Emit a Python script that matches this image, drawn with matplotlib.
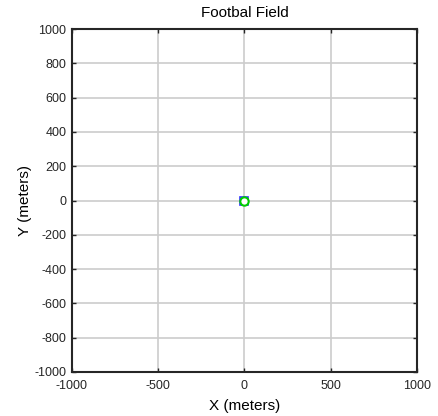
import matplotlib
matplotlib.use("Agg")
import matplotlib.pyplot as plt

plt.rcParams['font.family'] = ['Liberation Sans', 'DejaVu Sans']
plt.rcParams['axes.unicode_minus'] = False

# player / ball positions on the field
ball_x = [0]
ball_y = [0]
player_x = [0]
player_y = [0]

x_ticks = [-1000, -500, 0, 500, 1000]
y_ticks = [-1000, -800, -600, -400, -200, 0, 200, 400, 600, 800, 1000]

fig = plt.figure(figsize=(4.39, 4.16), dpi=100)
ax = fig.add_axes([72/439, 44/416, 345/439, 343/416])

ax.plot(player_x, player_y, 's', color='#3333ff', markersize=6, markeredgewidth=1.2,
        markerfacecolor='none')
ax.plot(ball_x, ball_y, 'o', color='#00cc00', markersize=6, markeredgewidth=1.5,
        markerfacecolor='white')

ax.set_xlim(-1000, 1000)
ax.set_ylim(-1000, 1000)
ax.set_xticks(x_ticks)
ax.set_yticks(y_ticks)
ax.grid(True, color='#cccccc', linewidth=1.2)
ax.set_axisbelow(True)
ax.tick_params(direction='in', top=True, right=True, labelsize=9, length=3,
               width=1, colors='#262626')
ax.tick_params(axis='x', pad=6)
ax.tick_params(axis='y', pad=4)
for s in ax.spines.values():
    s.set_linewidth(1.5)
    s.set_color('#262626')

ax.set_title('Footbal Field', fontsize=11, pad=9)
ax.set_xlabel('X (meters)', fontsize=11, labelpad=5)
ax.set_ylabel('Y (meters)', fontsize=11, labelpad=2)

fig.savefig('out.png', dpi=100)
